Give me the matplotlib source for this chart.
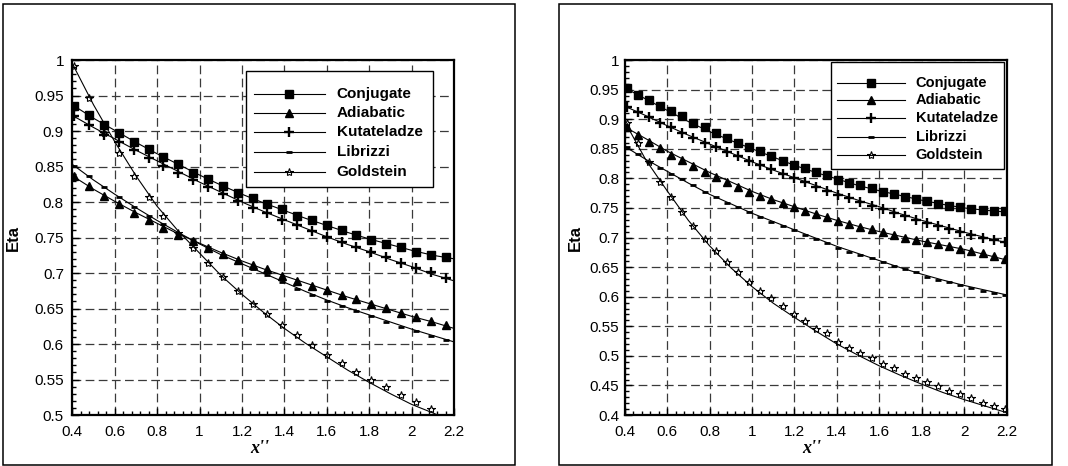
import matplotlib
matplotlib.use("Agg")
import matplotlib.pyplot as plt
from matplotlib.patches import Rectangle
from matplotlib.ticker import MultipleLocator, FormatStrFormatter

plt.rcParams['font.family'] = ['Liberation Sans', 'DejaVu Sans']

NAMES = ['Conjugate', 'Adiabatic', 'Kutateladze', 'Librizzi', 'Goldstein']

# fitted curves, sampled every 0.1
X_CURVE = [0.4, 0.5, 0.6, 0.7, 0.8, 0.9, 1.0, 1.1, 1.2, 1.3, 1.4, 1.5, 1.6,
           1.7, 1.8, 1.9, 2.0, 2.1, 2.2]

# ---- left case ----
x_left = [0.41, 0.48, 0.55, 0.62, 0.69, 0.76, 0.83, 0.90, 0.97, 1.04, 1.11,
          1.18, 1.25, 1.32, 1.39, 1.46, 1.53, 1.60, 1.67, 1.74, 1.81, 1.88,
          1.95, 2.02, 2.09, 2.16]
conj_left = [0.935, 0.922, 0.909, 0.897, 0.885, 0.874, 0.863, 0.853, 0.841,
             0.832, 0.823, 0.813, 0.805, 0.797, 0.790, 0.781, 0.774, 0.767,
             0.760, 0.753, 0.747, 0.741, 0.736, 0.730, 0.726, 0.723]
adia_left = [0.836, 0.822, 0.808, 0.797, 0.785, 0.775, 0.763, 0.754, 0.745,
             0.735, 0.727, 0.719, 0.711, 0.705, 0.696, 0.689, 0.682, 0.676,
             0.669, 0.663, 0.657, 0.651, 0.644, 0.638, 0.632, 0.627]
kuta_left = [0.921, 0.908, 0.895, 0.885, 0.873, 0.862, 0.851, 0.841, 0.831,
             0.821, 0.811, 0.801, 0.792, 0.784, 0.775, 0.767, 0.759, 0.751,
             0.744, 0.736, 0.729, 0.722, 0.714, 0.707, 0.701, 0.693]
libr_left = [0.851, 0.837, 0.821, 0.807, 0.793, 0.780, 0.769, 0.756, 0.746,
             0.736, 0.725, 0.714, 0.706, 0.697, 0.688, 0.678, 0.669, 0.661,
             0.654, 0.646, 0.640, 0.631, 0.624, 0.619, 0.611, 0.606]
gold_left = [0.992, 0.946, 0.897, 0.869, 0.837, 0.807, 0.780, 0.757, 0.735,
             0.714, 0.694, 0.675, 0.657, 0.642, 0.627, 0.613, 0.599, 0.585,
             0.573, 0.561, 0.550, 0.539, 0.528, 0.519, 0.509]

conj_left_fit = [0.937, 0.918, 0.901, 0.884, 0.868, 0.853, 0.838, 0.824, 0.811,
                 0.799, 0.788, 0.777, 0.767, 0.757, 0.748, 0.740, 0.732, 0.725,
                 0.720]
adia_left_fit = [0.837, 0.818, 0.801, 0.785, 0.770, 0.755, 0.742, 0.729, 0.717,
                 0.706, 0.696, 0.686, 0.676, 0.666, 0.657, 0.648, 0.639, 0.631,
                 0.622]
kuta_left_fit = [0.922, 0.905, 0.889, 0.873, 0.858, 0.843, 0.828, 0.814, 0.800,
                 0.787, 0.775, 0.763, 0.751, 0.740, 0.730, 0.719, 0.709, 0.698,
                 0.689]
libr_left_fit = [0.853, 0.831, 0.811, 0.792, 0.774, 0.757, 0.741, 0.726, 0.713,
                 0.700, 0.687, 0.674, 0.662, 0.651, 0.641, 0.631, 0.621, 0.612,
                 0.603]
gold_left_fit = [0.995, 0.937, 0.885, 0.837, 0.794, 0.759, 0.728, 0.697, 0.670,
                 0.645, 0.622, 0.601, 0.582, 0.563, 0.546, 0.530, 0.515, 0.503,
                 0.490]

# ---- right case ----
x_right = [0.410, 0.462, 0.515, 0.567, 0.620, 0.672, 0.724, 0.777, 0.829,
           0.882, 0.934, 0.986, 1.039, 1.091, 1.144, 1.196, 1.248, 1.301,
           1.353, 1.406, 1.458, 1.510, 1.563, 1.615, 1.668, 1.720, 1.772,
           1.825, 1.877, 1.930, 1.982, 2.034, 2.087, 2.139, 2.192]
conj_right = [0.952, 0.941, 0.933, 0.923, 0.913, 0.905, 0.894, 0.886, 0.877,
              0.869, 0.860, 0.853, 0.846, 0.837, 0.830, 0.823, 0.817, 0.811,
              0.805, 0.798, 0.792, 0.788, 0.783, 0.777, 0.773, 0.769, 0.765,
              0.761, 0.757, 0.753, 0.751, 0.748, 0.746, 0.745, 0.744]
adia_right = [0.886, 0.874, 0.862, 0.852, 0.839, 0.831, 0.821, 0.811, 0.803,
              0.793, 0.786, 0.777, 0.771, 0.765, 0.759, 0.752, 0.745, 0.739,
              0.734, 0.728, 0.723, 0.718, 0.714, 0.709, 0.704, 0.700, 0.696,
              0.692, 0.689, 0.685, 0.681, 0.678, 0.673, 0.669, 0.663]
kuta_right = [0.921, 0.912, 0.903, 0.894, 0.886, 0.877, 0.869, 0.860, 0.853,
              0.845, 0.837, 0.830, 0.822, 0.815, 0.807, 0.801, 0.793, 0.786,
              0.779, 0.772, 0.766, 0.760, 0.754, 0.748, 0.742, 0.736, 0.730,
              0.725, 0.719, 0.714, 0.709, 0.704, 0.700, 0.696, 0.692]
libr_right = [0.853, 0.841, 0.827, 0.818, 0.808, 0.799, 0.788, 0.777, 0.769,
              0.759, 0.751, 0.743, 0.735, 0.727, 0.719, 0.713, 0.704, 0.698,
              0.691, 0.683, 0.676, 0.670, 0.665, 0.658, 0.652, 0.646, 0.641,
              0.634, 0.628, 0.624, 0.619, 0.615, 0.610, 0.607, 0.603]
gold_right = [0.894, 0.859, 0.827, 0.794, 0.769, 0.743, 0.720, 0.697, 0.678,
              0.659, 0.642, 0.625, 0.610, 0.597, 0.584, 0.570, 0.559, 0.546,
              0.538, 0.524, 0.514, 0.504, 0.496, 0.487, 0.479, 0.470, 0.462,
              0.455, 0.449, 0.441, 0.435, 0.428, 0.421, 0.416, 0.410]

conj_right_fit = [0.953, 0.934, 0.915, 0.896, 0.879, 0.864, 0.850, 0.836, 0.822,
                  0.810, 0.799, 0.788, 0.779, 0.771, 0.763, 0.756, 0.750, 0.746,
                  0.743]
adia_right_fit = [0.887, 0.867, 0.846, 0.828, 0.810, 0.794, 0.778, 0.764, 0.752,
                  0.740, 0.729, 0.719, 0.710, 0.702, 0.694, 0.687, 0.680, 0.671,
                  0.662]
kuta_right_fit = [0.922, 0.906, 0.889, 0.873, 0.858, 0.843, 0.828, 0.814, 0.801,
                  0.788, 0.775, 0.763, 0.752, 0.740, 0.729, 0.719, 0.709, 0.700,
                  0.691]
libr_right_fit = [0.854, 0.832, 0.812, 0.792, 0.773, 0.757, 0.741, 0.727, 0.713,
                  0.699, 0.685, 0.673, 0.661, 0.649, 0.638, 0.628, 0.619, 0.611,
                  0.603]
gold_right_fit = [0.896, 0.831, 0.779, 0.729, 0.686, 0.649, 0.617, 0.589, 0.565,
                  0.542, 0.520, 0.501, 0.483, 0.467, 0.452, 0.438, 0.426, 0.415,
                  0.404]

STYLE = {
    'Conjugate':   dict(marker='s', ms=5.5, mfc='k', mec='k'),
    'Adiabatic':   dict(marker='^', ms=5.5, mfc='k', mec='k'),
    'Kutateladze': dict(marker='+', ms=7.5, mec='k', mew=1.7),
    'Librizzi':    dict(marker='_', ms=4.5, mec='k', mew=2.0),
    'Goldstein':   dict(marker='*', ms=6, mfc='none', mec='k', mew=0.8),
}


def legend_box(ax, box, rows, line, text_x, fsize):
    # box = (x0, x1, y0, y1) in axes fraction
    x0, x1, y0, y1 = box
    ax.add_patch(Rectangle((x0, y0), x1 - x0, y1 - y0, transform=ax.transAxes,
                           fc='white', ec='k', lw=1.0, zorder=10))
    for name, y in zip(NAMES, rows):
        ax.plot(line, [y, y], color='k', lw=0.8, transform=ax.transAxes,
                zorder=11, clip_on=False)
        ax.plot([(line[0] + line[1]) / 2], [y], ls='none',
                transform=ax.transAxes, zorder=12, clip_on=False,
                **STYLE[name])
        ax.text(text_x, y, name, transform=ax.transAxes, fontsize=fsize,
                fontweight='bold', va='center', ha='left', zorder=12)


def panel(ax, xs, pts, fits, ylo, ylab_x, ypad):
    for name, ys, fit in zip(NAMES, pts, fits):
        ax.plot(X_CURVE, fit, color='k', lw=0.8, zorder=3)
        ax.plot(xs[:len(ys)], ys, ls='none', zorder=4, **STYLE[name])

    ax.set_xlim(0.4, 2.2)
    ax.set_ylim(ylo, 1.0)
    ax.xaxis.set_major_locator(MultipleLocator(0.2))
    ax.xaxis.set_minor_locator(MultipleLocator(0.04))
    ax.yaxis.set_major_locator(MultipleLocator(0.05))
    ax.yaxis.set_minor_locator(MultipleLocator(0.01))
    ax.xaxis.set_major_formatter(FormatStrFormatter('%g'))
    ax.yaxis.set_major_formatter(FormatStrFormatter('%g'))
    ax.tick_params(which='both', direction='in', width=1, color='k')
    ax.tick_params(which='major', length=5)
    ax.tick_params(which='minor', length=3)
    ax.tick_params(axis='x', which='major', labelsize=11, pad=7)
    ax.tick_params(axis='y', which='major', labelsize=11, pad=ypad)
    for s in ax.spines.values():
        s.set_linewidth(1.6)
    ax.grid(True, which='major', color='#3a3a3a', lw=0.9, ls=(0, (7, 3.5)))
    ax.set_axisbelow(True)

    ax.set_ylabel('Eta', fontsize=12, fontweight='bold',
                  family=['Liberation Sans', 'DejaVu Sans'])
    ax.yaxis.set_label_coords(ylab_x, 0.5)
    ax.set_xlabel("x''", fontsize=13, fontweight='bold', fontstyle='italic',
                  family=['Liberation Serif', 'DejaVu Serif'])
    ax.xaxis.set_label_coords(0.49, -0.07)


fig = plt.figure(figsize=(10.68, 4.66), dpi=100)
ax1 = fig.add_axes([0.0677, 0.1094, 0.3574, 0.7618])
ax2 = fig.add_axes([0.5849, 0.1094, 0.3577, 0.7618])

panel(ax1, x_left,
      [conj_left, adia_left, kuta_left, libr_left, gold_left],
      [conj_left_fit, adia_left_fit, kuta_left_fit, libr_left_fit, gold_left_fit],
      0.5, -0.135, 6)
legend_box(ax1, (0.454, 0.946, 0.643, 0.969),
           [0.904, 0.850, 0.796, 0.740, 0.685], (0.476, 0.662), 0.693, 11)

panel(ax2, x_right,
      [conj_right, adia_right, kuta_right, libr_right, gold_right],
      [conj_right_fit, adia_right_fit, kuta_right_fit, libr_right_fit, gold_right_fit],
      0.4, -0.11, 4)
legend_box(ax2, (0.539, 0.993, 0.692, 0.994),
           [0.936, 0.887, 0.836, 0.784, 0.732], (0.557, 0.733), 0.762, 10.5)

# frames around each case
for x0, x1 in [(3, 515), (559, 1052)]:
    fig.add_artist(Rectangle((x0 / 1068, 1 / 466), (x1 - x0) / 1068, 461 / 466,
                             transform=fig.transFigure, fill=False,
                             ec='k', lw=1.1))

fig.savefig('out.png', dpi=100)
